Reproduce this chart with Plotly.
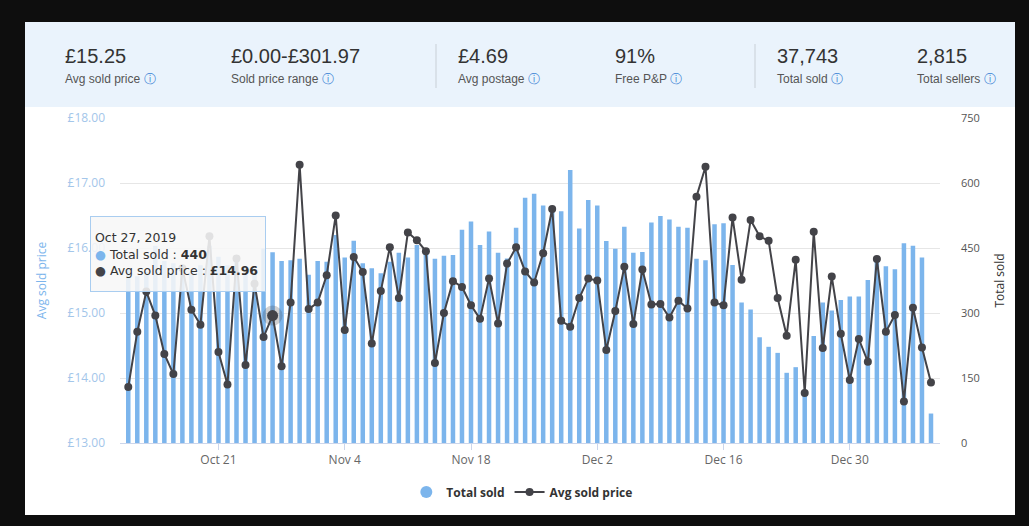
import plotly.graph_objects as go
import pandas as pd

# daily values, Oct 11 2019 - Jan 8 2020
dates = pd.date_range('2019-10-11', periods=90, freq='D')

total_sold = [400, 385, 395, 455, 420, 415, 405, 395, 410, 455,
              430, 410, 420, 405, 395, 449, 440, 420, 422, 425,
              388, 420, 418, 480, 428, 467, 415, 403, 392, 418,
              439, 428, 457, 445, 425, 432, 434, 492, 511, 457,
              488, 439, 426, 497, 566, 575, 548, 542, 535, 630,
              495, 561, 548, 466, 448, 499, 439, 441, 509, 524,
              516, 499, 497, 425, 422, 505, 507, 411, 324, 308,
              244, 222, 208, 162, 175, 111, 247, 324, 306, 330,
              338, 338, 376, 420, 408, 401, 461, 455, 428, 68]

avg_price = [13.86, 14.71, 15.33, 14.96, 14.37, 14.06, 15.69, 15.05, 14.82, 16.18,
             14.40, 13.90, 15.84, 14.20, 15.45, 14.63, 14.96, 14.18, 15.16, 17.28,
             15.06, 15.16, 15.58, 16.50, 14.74, 15.86, 15.63, 14.53, 15.34, 16.01,
             15.23, 16.24, 16.12, 15.95, 14.23, 15.00, 15.49, 15.40, 15.12, 14.91,
             15.53, 14.84, 15.76, 16.01, 15.64, 15.47, 15.92, 16.60, 14.88, 14.79,
             15.23, 15.53, 15.50, 14.43, 15.03, 15.71, 14.83, 15.67, 15.13, 15.14,
             14.93, 15.19, 15.07, 16.79, 17.25, 15.16, 15.12, 16.47, 15.51, 16.43,
             16.18, 16.11, 15.23, 14.65, 15.82, 13.77, 16.25, 14.46, 15.56, 14.68,
             13.97, 14.60, 14.25, 15.83, 14.71, 14.97, 13.64, 15.08, 14.47, 13.93]

# summary banner
stat_values = ['£15.25', '£0.00-£301.97', '£4.69', '91%', '37,743', '2,815']
stat_labels = ['Avg sold price', 'Sold price range', 'Avg postage', 'Free P&P', 'Total sold', 'Total sellers']
stat_x = [63, 229, 456, 613, 775, 915]

hover_idx = 16  # Oct 27 tooltip

W, H = 1029, 526
L, R, T, B = 120, 940, 118, 443


def px_x(p):
    return (p - L) / (R - L)


def px_y(p):
    return (B - p) / (B - T)


fig = go.Figure()

fig.add_trace(go.Bar(
    x=dates, y=total_sold, name='Total sold', yaxis='y',
    marker=dict(color='#7cb5ec', line=dict(width=0)),
    width=0.5 * 86400000, showlegend=False,
))
# legend entry with round symbol like the original
fig.add_trace(go.Scatter(
    x=[None], y=[None], mode='markers', name='Total sold',
    marker=dict(color='#7cb5ec', size=12), yaxis='y',
))
fig.add_trace(go.Scatter(
    x=dates, y=avg_price, name='Avg sold price', yaxis='y2',
    mode='lines+markers',
    line=dict(color='#434348', width=2),
    marker=dict(color='#434348', size=8),
))
# hover halo
fig.add_trace(go.Scatter(
    x=[dates[hover_idx]], y=[avg_price[hover_idx]], yaxis='y2', mode='markers',
    marker=dict(color='rgba(67,67,72,0.25)', size=20), showlegend=False,
))
fig.add_trace(go.Scatter(
    x=[dates[hover_idx]], y=[avg_price[hover_idx]], yaxis='y2', mode='markers',
    marker=dict(color='#434348', size=11), showlegend=False,
))

shapes = [
    dict(type='rect', xref='paper', yref='paper', layer='below',
         x0=px_x(25), x1=px_x(1015), y0=px_y(515), y1=px_y(22),
         fillcolor='white', line=dict(width=0)),
    dict(type='rect', xref='paper', yref='paper', layer='below',
         x0=px_x(25), x1=px_x(1015), y0=px_y(107), y1=px_y(22),
         fillcolor='#eaf3fc', line=dict(width=0)),
    dict(type='line', xref='paper', yref='paper',
         x0=px_x(436), x1=px_x(436), y0=px_y(88), y1=px_y(44),
         line=dict(color='#c8cfd6', width=1)),
    dict(type='line', xref='paper', yref='paper',
         x0=px_x(755), x1=px_x(755), y0=px_y(88), y1=px_y(44),
         line=dict(color='#c8cfd6', width=1)),
]

annotations = []
for v, lab, sx in zip(stat_values, stat_labels, stat_x):
    annotations.append(dict(
        xref='paper', yref='paper', x=px_x(sx), y=px_y(56),
        xanchor='left', yanchor='middle', showarrow=False, text=v,
        font=dict(family='Liberation Sans, Arial', size=20, color='#333333'),
    ))
    annotations.append(dict(
        xref='paper', yref='paper', x=px_x(sx), y=px_y(79),
        xanchor='left', yanchor='middle', showarrow=False,
        text=lab + ' <span style="color:#3f86d6">ⓘ</span>',
        font=dict(family='Liberation Sans, Arial', size=12, color='#555555'),
    ))

# tooltip box
annotations.append(dict(
    xref='paper', yref='paper', x=px_x(90), y=px_y(216),
    xanchor='left', yanchor='top', showarrow=False, align='left',
    text=('Oct 27, 2019<br>'
          '<span style="color:#7cb5ec">●</span> Total sold : <b>%d</b><br>'
          '<span style="color:#434348">●</span> Avg sold price : <b>£%.2f</b>'
          % (total_sold[hover_idx], avg_price[hover_idx])),
    font=dict(family='DejaVu Sans', size=12.5, color='#333333'),
    bgcolor='rgba(247,247,247,0.88)', bordercolor='#a9cdf0', borderwidth=1,
    borderpad=4, width=166, height=66,
))

fig.update_layout(
    width=W, height=H,
    margin=dict(l=L, r=W - R, t=T, b=H - B),
    paper_bgcolor='#0e0e0e', plot_bgcolor='rgba(0,0,0,0)',
    font=dict(family='Open Sans, DejaVu Sans', color='#666666'),
    shapes=shapes, annotations=annotations,
    xaxis=dict(
        type='date',
        range=['2019-10-10 02:00', '2020-01-09 00:00'],
        tick0='2019-10-21', dtick=14 * 86400000, tickformat='%b %-d',
        ticks='outside', ticklen=6, tickcolor='#ccd6eb',
        showline=True, linecolor='#ccd6eb', showgrid=False,
        tickfont=dict(size=12, color='#666666'),
    ),
    yaxis=dict(
        side='right', range=[0, 750], dtick=150,
        showgrid=True, gridcolor='#e6e6e6', zeroline=False,
        ticklabelstandoff=20,
        tickfont=dict(size=11, color='#555555'),
        title=dict(text='Total sold', font=dict(size=12, color='#333333'), standoff=16),
    ),
    yaxis2=dict(
        overlaying='y', side='left', range=[13, 18], dtick=1,
        tickprefix='£', tickformat='.2f', showgrid=False, zeroline=False,
        ticklabelstandoff=14,
        tickfont=dict(size=12, color='#a3c6ea'),
        title=dict(text='Avg sold price', font=dict(size=12, color='#7cb5ec'), standoff=18),
    ),
    legend=dict(
        orientation='h', x=0.49, xanchor='center', y=px_y(492), yanchor='middle',
        font=dict(size=12, color='#333333', weight='bold'),
        bgcolor='rgba(0,0,0,0)',
    ),
)

fig.write_html('out.html', config={'displayModeBar': False},
               post_script="document.body.style.margin='0';document.body.style.background='#0e0e0e';")
